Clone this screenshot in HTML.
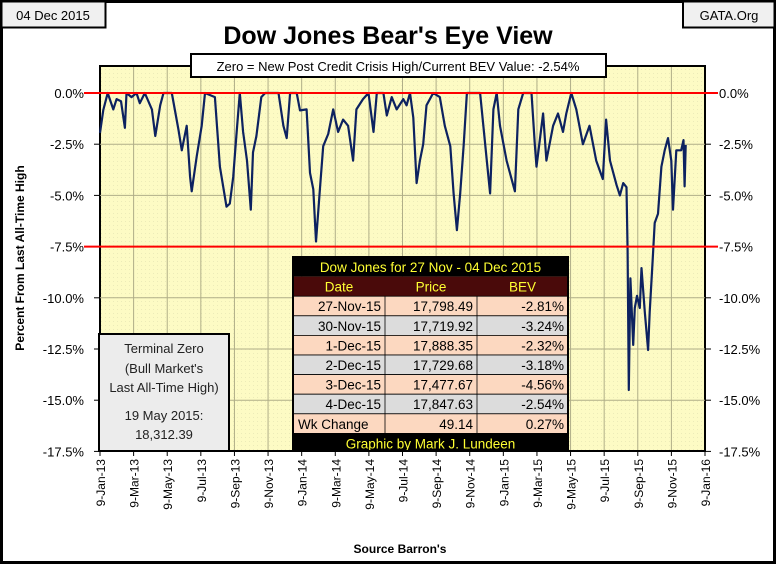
<!DOCTYPE html>
<html><head><meta charset="utf-8"><style>
body{margin:0;background:#fff}
svg{display:block;font-family:"Liberation Sans",sans-serif}
</style></head><body>
<svg id="chart" width="776" height="564" viewBox="0 0 776 564">
<defs>
<pattern id="dots" width="4" height="4" patternUnits="userSpaceOnUse"><rect width="4" height="4" fill="#fdfbc4"/><rect x="1" y="1" width="1" height="1" fill="#ecebb8"/></pattern>
</defs>
<rect x="1.5" y="1.5" width="773" height="561" fill="#fff" stroke="#000" stroke-width="3"/>
<rect x="1.5" y="1.5" width="104" height="26" fill="#f0f0f0" stroke="#000" stroke-width="2"/>
<text x="53" y="20" font-size="13" text-anchor="middle">04 Dec 2015</text>
<rect x="683" y="1.5" width="91.5" height="26" fill="#f0f0f0" stroke="#000" stroke-width="2"/>
<text x="729" y="20" font-size="13" text-anchor="middle">GATA.Org</text>
<text x="388" y="44" font-size="25" font-weight="bold" text-anchor="middle">Dow Jones Bear's Eye View</text>
<rect x="100" y="66" width="605" height="385" fill="url(#dots)" stroke="#000" stroke-width="2"/>
<g id="grid"></g>
<g id="yaxis"></g>
<g id="xaxis"></g>
<polyline id="series" fill="none" stroke="#0d2260" stroke-width="2.2" stroke-linejoin="round"/>
<g id="redlines"></g>
<rect x="191" y="54" width="415" height="23" fill="#fff" stroke="#000" stroke-width="2"/>
<text x="398" y="71" font-size="13" text-anchor="middle">Zero = New Post Credit Crisis High/Current BEV Value:  -2.54%</text>
<text transform="translate(24,258) rotate(-90)" font-size="12" font-weight="bold" text-anchor="middle">Percent From Last All-Time High</text>
<text x="400" y="553" font-size="12" font-weight="bold" text-anchor="middle">Source Barron's</text>
<g>
<rect x="99" y="334" width="130" height="117" fill="#ececec" stroke="#000" stroke-width="2"/>
<g font-size="13" text-anchor="middle" fill="#222">
<text x="164" y="353">Terminal Zero</text>
<text x="164" y="373">(Bull Market's</text>
<text x="164" y="392">Last All-Time High)</text>
<text x="164" y="420">19 May 2015:</text>
<text x="164" y="439">18,312.39</text>
</g></g>
<g id="table"></g>
</svg>
<script>
const dayOffsets=[0,6,14,24,30,38,45,48,57,66,72,81,94,100,109,115,130,142,148,157,163,166,175,184,190,208,217,229,235,241,247,253,259,266,273,277,283,292,299,314,323,332,338,344,356,362,374,380,386,391,398,404,413,422,431,440,449,458,464,476,486,495,501,513,519,528,537,549,555,561,567,573,579,585,591,603,615,624,634,640,646,652,658,664,688,700,706,712,718,724,736,751,757,766,781,787,790,802,808,820,829,838,844,853,862,874,886,898,910,916,923,935,941,947,953,955,957,960,965,968,972,977,980,986,992,995,1000,1004,1010,1016,1022,1028,1034,1037,1043,1052,1056,1058,1060];
const bevValues=[-1.95,-0.83,0,-0.8,-0.3,-0.4,-1.7,0,-0.2,0,-0.5,0,-0.8,-2.1,-0.6,0,0,-1.8,-2.8,-1.6,-4.1,-4.8,-3.1,-1.6,0,-0.2,-3.6,-5.55,-5.4,-4.1,-2.0,0,-1.9,-3.3,-5.7,-2.9,-2.1,-0.2,0,0,0,-1.6,-2.2,0,0,-0.85,-0.8,-3.9,-4.7,-7.25,-4.7,-2.6,-2.0,-0.8,-1.9,-1.3,-1.6,-3.3,-0.8,-0.3,0,-1.9,0,0,-1.1,-0.2,-0.8,-0.3,-0.6,0,-1.2,-4.4,-3.3,-2.5,-0.6,0,-0.2,-1.6,-2.6,-4.9,-6.7,-4.9,-2.6,0,0,-3.3,-4.9,-0.8,0,-1.6,-3.3,-4.8,-0.8,0,0,-2.5,-3.6,-1.0,-3.3,-1.6,-1.0,-1.9,-1.0,0,-0.8,-2.5,-1.6,-3.3,-4.2,-1.3,-3.3,-4.5,-5.0,-4.4,-4.6,-7.7,-14.5,-9.05,-12.3,-10.5,-9.9,-10.5,-8.55,-10.7,-12.55,-10.7,-8.3,-6.35,-5.9,-3.6,-2.8,-2.2,-3.3,-5.7,-2.8,-2.8,-2.3,-4.56,-2.54];
const yTicks=[0,-2.5,-5,-7.5,-10,-12.5,-15,-17.5];
const xTickLabels=["9-Jan-13","9-Mar-13","9-May-13","9-Jul-13","9-Sep-13","9-Nov-13","9-Jan-14","9-Mar-14","9-May-14","9-Jul-14","9-Sep-14","9-Nov-14","9-Jan-15","9-Mar-15","9-May-15","9-Jul-15","9-Sep-15","9-Nov-15","9-Jan-16"];
const refLevels=[0,-7.5];
const tableDates=["27-Nov-15","30-Nov-15","1-Dec-15","2-Dec-15","3-Dec-15","4-Dec-15","Wk Change"];
const tablePrices=["17,798.49","17,719.92","17,888.35","17,729.68","17,477.67","17,847.63","49.14"];
const tableBev=["-2.81%","-3.24%","-2.32%","-3.18%","-4.56%","-2.54%","0.27%"];

const NS="http://www.w3.org/2000/svg";
const X0=100,X1=705,Y0=93,PX_PER_PCT=51.2/2.5,TOTAL_DAYS=1095;
const xs=d=>X0+d/TOTAL_DAYS*(X1-X0);
const ys=v=>Y0-v*PX_PER_PCT;
function mk(tag,attrs,parent){const e=document.createElementNS(NS,tag);for(const k in attrs)e.setAttribute(k,attrs[k]);parent.appendChild(e);return e;}
const grid=document.getElementById('grid'),ya=document.getElementById('yaxis'),xa=document.getElementById('xaxis');
yTicks.forEach(t=>{
  const y=ys(t);
  if(t!==0&&t!==-17.5){const g=mk('line',{x1:X0,x2:X1,y1:y,y2:y,stroke:'#b0ae88','stroke-width':1},grid);
  
  }
  mk('line',{x1:X0-6,x2:X0,y1:y,y2:y,stroke:'#000'},ya);
  mk('line',{x1:X1,x2:X1+6,y1:y,y2:y,stroke:'#000'},ya);
  const lab=t.toFixed(1)+'%';
  const l=mk('text',{x:84,y:y+5,'font-size':13,'text-anchor':'end'},ya);l.textContent=lab;
  
  
  const r=mk('text',{x:719,y:y+5,'font-size':13},ya);r.textContent=lab;
  
  
});
xTickLabels.forEach((s,i)=>{
  const x=X0+i*(X1-X0)/(xTickLabels.length-1);
  if(i>0&&i<xTickLabels.length-1){const g=mk('line',{x1:x,x2:x,y1:67,y2:450,stroke:'#b0ae88','stroke-width':1},grid);
  
  }
  mk('line',{x1:x,x2:x,y1:451,y2:456,stroke:'#000'},xa);
  const t=mk('text',{transform:`translate(${x+5},459) rotate(-90)`,'font-size':12,'text-anchor':'end'},xa);t.textContent=s;
  
  
});
document.getElementById('series').setAttribute('points',dayOffsets.map((d,i)=>xs(d).toFixed(1)+','+ys(bevValues[i]).toFixed(1)).join(' '));
const rl=document.getElementById('redlines');
refLevels.forEach(v=>{const l=mk('line',{x1:84,x2:718,y1:ys(v),y2:ys(v),stroke:'#f00','stroke-width':2},rl);

});
const tb=document.getElementById('table');
const TX=[293,385,477,568],TY=257,RH=19.6;
mk('rect',{x:TX[0],y:TY,width:TX[3]-TX[0],height:RH,fill:'#000'},tb);
let h=mk('text',{x:(TX[0]+TX[3])/2,y:TY+15,'font-size':13.5,fill:'#ffff33','text-anchor':'middle'},tb);h.textContent='Dow Jones for 27 Nov - 04 Dec 2015';
mk('rect',{x:TX[0],y:TY+RH,width:TX[3]-TX[0],height:RH,fill:'#4a0a0a'},tb);
["Date","Price","BEV"].forEach((s,i)=>{const t=mk('text',{x:(TX[i]+TX[i+1])/2,y:TY+RH+15,'font-size':13.5,fill:'#ffff33','text-anchor':'middle'},tb);t.textContent=s;});
tableDates.forEach((d,r)=>{
  const y=TY+RH*(r+2);
  mk('rect',{x:TX[0],y:y,width:TX[3]-TX[0],height:RH,fill:(r%2===1&&r<6)?'#dcdcdc':'#fcd8c0',stroke:'#000','stroke-width':0.8},tb);
  [1,2].forEach(c=>mk('line',{x1:TX[c],x2:TX[c],y1:y,y2:y+RH,stroke:'#000','stroke-width':0.8},tb));
  const row=mk('g',{},tb);
  
  
  const a=mk('text',{x:r===6?TX[0]+5:TX[1]-4,y:y+15,'font-size':13.5,'text-anchor':r===6?'start':'end'},row);a.textContent=d;
  const b=mk('text',{x:TX[2]-4,y:y+15,'font-size':13.5,'text-anchor':'end'},row);b.textContent=tablePrices[r];
  const c=mk('text',{x:TX[3]-4,y:y+15,'font-size':13.5,'text-anchor':'end'},row);c.textContent=tableBev[r];
});
const fy=TY+RH*9;
mk('rect',{x:TX[0],y:fy,width:TX[3]-TX[0],height:451-fy,fill:'#000'},tb);
const f=mk('text',{x:(TX[0]+TX[3])/2,y:fy+15,'font-size':13.5,fill:'#ffff33','text-anchor':'middle'},tb);f.textContent='Graphic by Mark J. Lundeen';
mk('rect',{x:TX[0],y:TY,width:TX[3]-TX[0],height:451-TY,fill:'none',stroke:'#000','stroke-width':2},tb);
</script>
</body></html>
